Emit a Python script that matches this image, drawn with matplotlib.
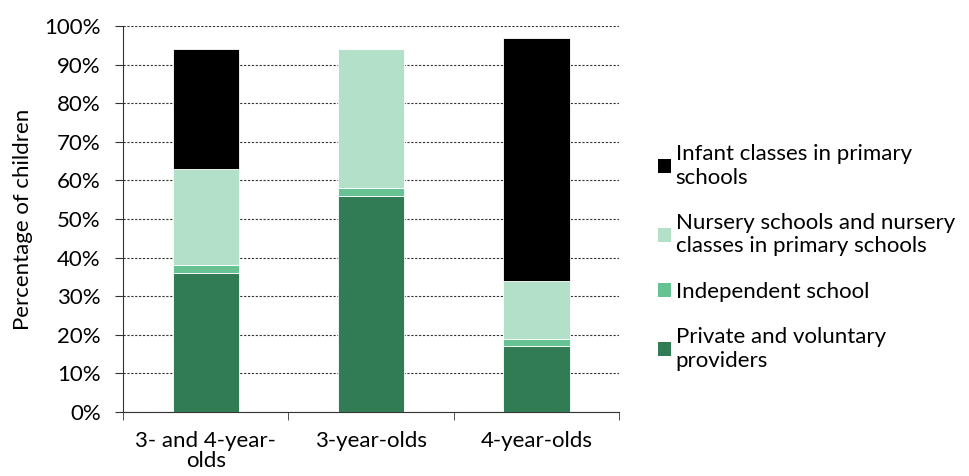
import matplotlib

matplotlib.use("Agg")
import matplotlib.pyplot as plt
from matplotlib.ticker import FixedLocator, PercentFormatter

plt.rcParams["font.family"] = ["Lato", "DejaVu Sans"]

categories = ["3- and 4-year-\nolds", "3-year-olds", "4-year-olds"]
private_voluntary = [36, 56, 17]
independent = [2, 2, 2]
nursery = [25, 36, 15]
infant = [31, 0, 63]

series = [
    ("Private and voluntary\nproviders", private_voluntary, "#317c54"),
    ("Independent school", independent, "#66c293"),
    ("Nursery schools and nursery\nclasses in primary schools", nursery, "#b3e0c9"),
    ("Infant classes in primary\nschools", infant, "#000000"),
]

fs = 16

fig = plt.figure(figsize=(9.69, 4.76), dpi=100)
ax = fig.add_axes([0.127, 0.1345, 0.512, 0.811])

x = list(range(len(categories)))
bottom = [0] * len(categories)
handles = []
for label, values, color in series:
    bars = ax.bar(x, values, width=0.4, bottom=bottom, color=color,
                  edgecolor="white", linewidth=0.6, label=label, zorder=3)
    handles.append(bars)
    bottom = [b + v for b, v in zip(bottom, values)]

ax.set_xlim(-0.5, 2.5)
ax.set_ylim(0, 100)
ax.set_yticks(range(0, 101, 10))
ax.yaxis.set_major_formatter(PercentFormatter(decimals=0))
ax.set_xticks(x)
ax.set_xticklabels(categories, fontsize=fs, linespacing=0.95)
ax.xaxis.set_minor_locator(FixedLocator([-0.5, 0.5, 1.5, 2.5]))
ax.tick_params(axis="x", which="major", length=0, pad=14)
ax.tick_params(axis="x", which="minor", length=6, direction="out", color="#333333")
ax.tick_params(axis="y", labelsize=fs, length=6, pad=10, direction="out", color="#333333")
ax.set_ylabel("Percentage of children", fontsize=fs, labelpad=8)

ax.grid(True, axis="y", color="#333333", linestyle=(0, (2, 1.5)), linewidth=0.8, zorder=0)
for side in ("top", "right"):
    ax.spines[side].set_visible(False)
for side in ("left", "bottom"):
    ax.spines[side].set_color("#333333")

leg = ax.legend(handles[::-1], [s[0] for s in series][::-1], loc="center left",
                bbox_to_anchor=(1.06, 0.4), frameon=False, fontsize=fs,
                handlelength=0.6, handleheight=0.6, handletextpad=0.2,
                labelspacing=1.15, borderaxespad=0)
for h in leg.legend_handles:
    h.set_edgecolor("none")

fig.savefig("out.png", dpi=100)
